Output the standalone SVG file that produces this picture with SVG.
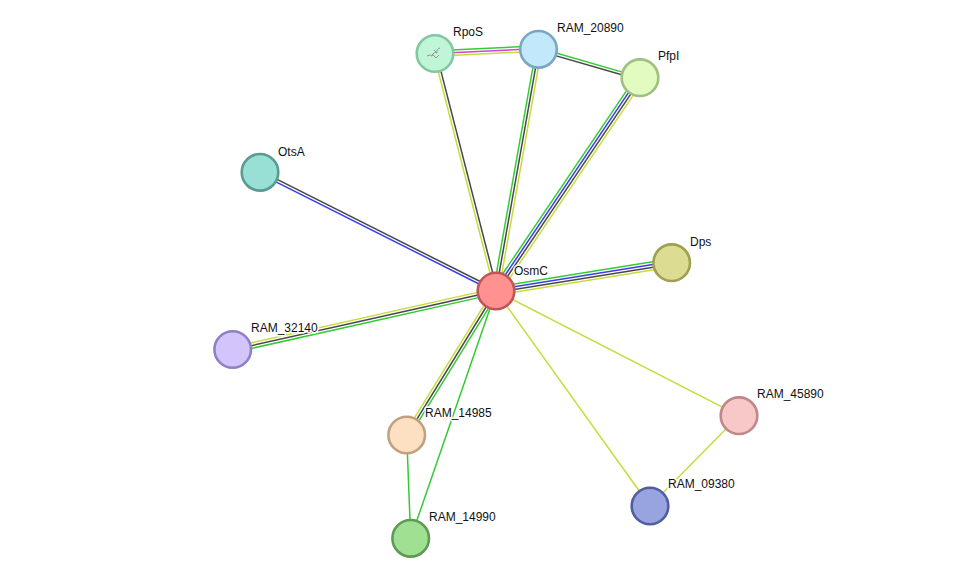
<svg xmlns="http://www.w3.org/2000/svg" width="976" height="584" viewBox="0 0 976 584">
<style>
.e line{stroke-width:1.5;fill:none}
.g{stroke:#33cc33}
.y{stroke:#c6dc3c}
.k{stroke:#474747}
.b{stroke:#3b3bf0}
.m{stroke:#d93fd9}
.n circle{stroke-width:2.6}
.n text{font-family:"Liberation Sans",Arial,sans-serif;font-size:12px;fill:#111;stroke:#fff;stroke-width:3;paint-order:stroke;stroke-linejoin:round}
</style>
<rect width="976" height="584" fill="#fff"/>
<g id="connectors" class="e">
  <g transform="translate(435,53.5) rotate(-2.75)">
    <line class="g" x1="0" y1="-2.7" x2="104" y2="-2.7"/>
    <line class="m" x1="0" y1="0" x2="104" y2="0"/>
    <line class="y" x1="0" y1="2.7" x2="104" y2="2.7"/>
  </g>
  <g transform="translate(538.5,49.3) rotate(16.1)">
    <line class="g" x1="0" y1="-1.35" x2="105" y2="-1.35"/>
    <line class="k" x1="0" y1="1.35" x2="105" y2="1.35"/>
  </g>
  <g transform="translate(496,291) rotate(-104.4)">
    <line class="y" x1="0" y1="-1.35" x2="245" y2="-1.35"/>
    <line class="k" x1="0" y1="1.35" x2="245" y2="1.35"/>
  </g>
  <g transform="translate(496,291) rotate(-79.95)">
    <line class="g" x1="0" y1="-2.7" x2="246" y2="-2.7"/>
    <line class="k" x1="0" y1="0" x2="246" y2="0"/>
    <line class="y" x1="0" y1="2.7" x2="246" y2="2.7"/>
  </g>
  <g transform="translate(496,291) rotate(-55.94)">
    <line class="g" x1="0" y1="-4.05" x2="257" y2="-4.05"/>
    <line class="b" x1="0" y1="-1.35" x2="257" y2="-1.35"/>
    <line class="k" x1="0" y1="1.35" x2="257" y2="1.35"/>
    <line class="y" x1="0" y1="4.05" x2="257" y2="4.05"/>
  </g>
  <g transform="translate(496,291) rotate(-153.3)">
    <line class="b" x1="0" y1="-1.35" x2="264" y2="-1.35"/>
    <line class="k" x1="0" y1="1.35" x2="264" y2="1.35"/>
  </g>
  <g transform="translate(496,291) rotate(-9.1)">
    <line class="g" x1="0" y1="-4.05" x2="178" y2="-4.05"/>
    <line class="b" x1="0" y1="-1.35" x2="178" y2="-1.35"/>
    <line class="k" x1="0" y1="1.35" x2="178" y2="1.35"/>
    <line class="y" x1="0" y1="4.05" x2="178" y2="4.05"/>
  </g>
  <g transform="translate(496,291) rotate(167.4)">
    <line class="g" x1="0" y1="-2.7" x2="269" y2="-2.7"/>
    <line class="k" x1="0" y1="0" x2="269" y2="0"/>
    <line class="y" x1="0" y1="2.7" x2="269" y2="2.7"/>
  </g>
  <g transform="translate(496,291) rotate(121.7)">
    <line class="g" x1="0" y1="-2.7" x2="169" y2="-2.7"/>
    <line class="k" x1="0" y1="0" x2="169" y2="0"/>
    <line class="y" x1="0" y1="2.7" x2="169" y2="2.7"/>
  </g>
  <line class="g" x1="496" y1="291" x2="410.7" y2="538.3"/>
  <line class="g" x1="406.7" y1="435" x2="410.7" y2="538.3"/>
  <line class="y" x1="496" y1="291" x2="650" y2="506"/>
  <line class="y" x1="496" y1="291" x2="739" y2="415.7"/>
  <line class="y" x1="739" y1="415.7" x2="650" y2="506"/>
</g>
<g id="OsmC" class="n"><circle cx="496" cy="291" r="18.3" fill="#ff9191" stroke="#c05555"/><text x="514" y="275">OsmC</text></g>
<g id="RpoS" class="n"><circle cx="435" cy="53.5" r="18.3" fill="#c0f5d8" stroke="#80c8a2"/>
  <path d="M427,56 q3,-2 5,0 q2,-5 5,-3 q-1,-4 3,-5 M432,54 l4,4 l3,-3 M434,50 l3,3" fill="none" stroke="#8a9a9a" stroke-width="1"/>
  <text x="453" y="36">RpoS</text></g>
<g id="RAM_20890" class="n"><circle cx="538.5" cy="49.3" r="18.3" fill="#c1e8fb" stroke="#7aa6c4"/><text x="557" y="32">RAM_20890</text></g>
<g id="PfpI" class="n"><circle cx="640" cy="77.7" r="18.3" fill="#e1fbc1" stroke="#a0c080"/><text x="658" y="60">PfpI</text></g>
<g id="OtsA" class="n"><circle cx="260" cy="172.3" r="18.3" fill="#98e0d5" stroke="#5b9a91"/><text x="278" y="156">OtsA</text></g>
<g id="Dps" class="n"><circle cx="671.7" cy="262.7" r="18.3" fill="#dcdc92" stroke="#a0a052"/><text x="690" y="246">Dps</text></g>
<g id="RAM_32140" class="n"><circle cx="232.7" cy="349.5" r="18.3" fill="#d4c4fc" stroke="#9080c4"/><text x="251" y="332">RAM_32140</text></g>
<g id="RAM_14985" class="n"><circle cx="406.7" cy="435" r="18.3" fill="#fde0c2" stroke="#c0a080"/><text x="425" y="417">RAM_14985</text></g>
<g id="RAM_14990" class="n"><circle cx="410.7" cy="538.3" r="18.3" fill="#a0e092" stroke="#5f9a52"/><text x="429" y="521">RAM_14990</text></g>
<g id="RAM_45890" class="n"><circle cx="739" cy="415.7" r="18.3" fill="#f8c8c8" stroke="#c08888"/><text x="757" y="398">RAM_45890</text></g>
<g id="RAM_09380" class="n"><circle cx="650" cy="506" r="18.3" fill="#98a4e0" stroke="#505ea0"/><text x="668" y="488">RAM_09380</text></g>
</svg>
